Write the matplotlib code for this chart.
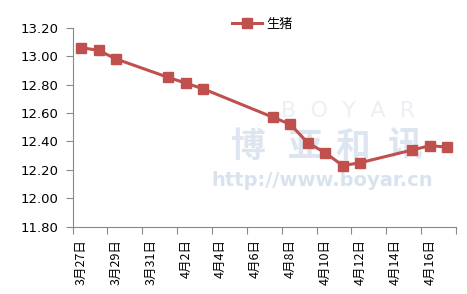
import matplotlib
matplotlib.use('Agg')
import matplotlib.pyplot as plt

plt.rcParams['font.family'] = ['Noto Sans CJK SC', 'DejaVu Sans']

# day offsets from 3/27 and prices
days = [0, 1, 2, 5, 6, 7, 11, 12, 13, 14, 15, 16, 19, 20, 21]
prices = [13.06, 13.04, 12.98, 12.85, 12.81, 12.77, 12.57, 12.52, 12.39,
          12.32, 12.23, 12.25, 12.34, 12.37, 12.36]
tick_labels = ['3月27日', '3月29日', '3月31日', '4月2日', '4月4日', '4月6日',
               '4月8日', '4月10日', '4月12日', '4月14日', '4月16日']
yticks = [11.80, 12.00, 12.20, 12.40, 12.60, 12.80, 13.00, 13.20]
n_days = 22

fig = plt.figure(figsize=(4.67, 2.94), dpi=100)
ax = fig.add_axes([72.5 / 467, 1 - 226.7 / 294, (456 - 72.5) / 467, (226.7 - 27.7) / 294])
ax.set_zorder(2)
ax.patch.set_alpha(0)

# faint watermark behind the axes
fig.text(348 / 467, 1 - 111 / 294, 'B  O  Y  A  R', color='#eceff4', fontsize=16,
         ha='center', va='center', family='DejaVu Sans', zorder=0)
for ch, cx in zip('博亚和讯', [248, 305, 353, 405]):
    fig.text(cx / 467, 1 - 146 / 294, ch, color='#dce5f0', fontsize=25,
             ha='center', va='center', fontweight='bold', zorder=0)
fig.text(322 / 467, 1 - 181 / 294, 'http://www.boyar.cn', color='#d9e3ef', fontsize=14,
         ha='center', va='center', fontweight='bold', family='DejaVu Sans', zorder=0)

xs = [d + 0.5 for d in days]
ax.plot(xs, prices, color='#C0504D', lw=2.2, marker='s', ms=7, label='生猪', zorder=3)

ax.set_xlim(0, n_days)
ax.set_ylim(11.8, 13.2)
ax.set_yticks(yticks)
ax.set_yticklabels(['%.2f' % v for v in yticks], family='DejaVu Sans', fontsize=9.5)

ax.set_xticks(range(0, n_days + 1, 2))
ax.set_xticklabels([])
ax.set_xticks([i * 2 + 0.5 for i in range(len(tick_labels))], minor=True)
ax.set_xticklabels(tick_labels, minor=True, rotation=90, fontsize=9)
ax.tick_params(axis='x', which='minor', length=0, pad=9)
ax.tick_params(axis='x', which='major', length=5, color='#888888', direction='out')
ax.tick_params(axis='y', length=5, color='#888888', direction='out', pad=5)

for s in ['top', 'right']:
    ax.spines[s].set_visible(False)
for s in ['left', 'bottom']:
    ax.spines[s].set_color('#888888')

fig.legend(loc='center', bbox_to_anchor=(262 / 467, 1 - 24 / 294), frameon=False,
           fontsize=9.5, handlelength=2.3, handletextpad=0.3)

fig.savefig('out.png', dpi=100)
